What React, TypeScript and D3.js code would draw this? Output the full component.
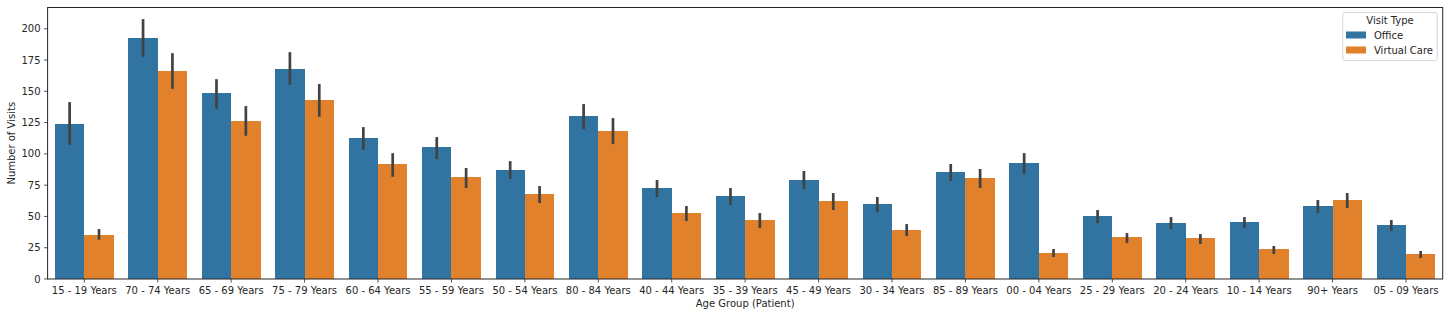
import React from "react";
import * as d3 from "d3";

const categories = [
  "15 - 19 Years", "70 - 74 Years", "65 - 69 Years", "75 - 79 Years", "60 - 64 Years",
  "55 - 59 Years", "50 - 54 Years", "80 - 84 Years", "40 - 44 Years", "35 - 39 Years",
  "45 - 49 Years", "30 - 34 Years", "85 - 89 Years", "00 - 04 Years", "25 - 29 Years",
  "20 - 24 Years", "10 - 14 Years", "90+ Years", "05 - 09 Years",
];
const seriesNames = ["Office", "Virtual Care"];
const officeValues = [123.8, 192.5, 148.6, 167.7, 112.6, 105.4, 87.1, 130.2, 72.7, 66.3, 79.1, 59.9, 85.5, 92.7, 50.3, 44.7, 45.5, 58.3, 43.1];
const officeLow = [107.3, 177.6, 136.0, 155.2, 103.3, 95.8, 79.9, 119.8, 65.5, 59.1, 71.9, 53.5, 78.3, 83.9, 44.7, 39.9, 40.7, 52.7, 38.3];
const officeHigh = [141.4, 207.7, 159.7, 181.3, 121.4, 113.4, 94.2, 139.8, 79.1, 72.7, 86.3, 65.5, 91.9, 100.6, 55.1, 49.5, 49.5, 63.1, 47.1];
const virtualValues = [35.1, 166.1, 126.2, 143.0, 91.9, 81.5, 67.9, 118.2, 52.7, 47.1, 62.3, 39.1, 80.7, 20.8, 33.5, 32.7, 24.0, 63.1, 20.0];
const virtualLow = [31.4, 152.0, 114.5, 129.6, 81.7, 72.7, 60.7, 107.8, 46.3, 40.7, 55.1, 34.3, 72.7, 17.6, 28.8, 28.0, 20.0, 56.7, 16.8];
const virtualHigh = [39.9, 180.5, 138.2, 155.8, 100.6, 88.7, 74.3, 128.6, 58.3, 52.7, 68.7, 43.9, 87.9, 24.0, 36.7, 35.9, 26.4, 68.7, 22.4];
const yTicks = [0, 25, 50, 75, 100, 125, 150, 175, 200];

const colors = ["#3274a1", "#e1812c"];
const W = 1449, H = 317;
const left = 47.6, right = 1442.7, top = 7.5, bottom = 279;
const font = "DejaVu Sans, sans-serif";

export default function App() {
  const x = d3.scaleBand<string>().domain(categories).range([left, right]).paddingInner(0).paddingOuter(0);
  const y = d3.scaleLinear().domain([0, 217]).range([bottom, top]);
  const bw = x.bandwidth();
  const barW = bw * 0.4;
  const series = [
    { v: officeValues, lo: officeLow, hi: officeHigh },
    { v: virtualValues, lo: virtualLow, hi: virtualHigh },
  ];
  return (
    <svg width={W} height={H} style={{ position: "absolute", left: 0, top: 0, background: "#fff" }} fontFamily={font}>
      <rect x={0} y={0} width={W} height={H} fill="#fff" />
      {series.map((s, si) =>
        categories.map((c, i) => {
          const cx = (x(c) as number) + bw / 2;
          const bx = cx - barW + si * barW;
          return (
            <rect key={`b${si}-${i}`} x={bx} y={y(s.v[i])} width={barW} height={y(0) - y(s.v[i])} fill={colors[si]} shapeRendering="crispEdges" />
          );
        })
      )}
      {series.map((s, si) =>
        categories.map((c, i) => {
          const cx = (x(c) as number) + bw / 2;
          const ex = cx - barW / 2 + si * barW;
          return (
            <line key={`e${si}-${i}`} x1={ex} x2={ex} y1={y(s.lo[i])} y2={y(s.hi[i])} stroke="#424242" strokeWidth={2.7} />
          );
        })
      )}
      <rect x={left} y={top} width={right - left} height={bottom - top} fill="none" stroke="#262626" strokeWidth={1} />
      {yTicks.map((t) => (
        <g key={`yt${t}`}>
          <line x1={left - 3.5} x2={left} y1={y(t)} y2={y(t)} stroke="#262626" strokeWidth={0.8} />
          <text x={left - 7} y={y(t)} dy="0.35em" textAnchor="end" fontSize={10} fill="#262626">{t}</text>
        </g>
      ))}
      {categories.map((c) => {
        const cx = (x(c) as number) + bw / 2;
        return (
          <g key={`xt${c}`}>
            <line x1={cx} x2={cx} y1={bottom} y2={bottom + 3.5} stroke="#262626" strokeWidth={0.8} />
            <text x={cx} y={bottom + 14.5} textAnchor="middle" fontSize={10} fill="#262626">{c}</text>
          </g>
        );
      })}
      <text x={(left + right) / 2} y={307} textAnchor="middle" fontSize={10} fill="#262626">Age Group (Patient)</text>
      <text transform={`translate(14.5, ${(top + bottom) / 2}) rotate(-90)`} textAnchor="middle" fontSize={10} fill="#262626">Number of Visits</text>
      <g>
        <rect x={1342.7} y={12.5} width={94.6} height={48} rx={2.5} fill="#fff" fillOpacity={0.8} stroke="#cccccc" strokeWidth={0.8} />
        <text x={1390} y={20} dy="0.35em" textAnchor="middle" fontSize={10} fill="#262626">Visit Type</text>
        {seriesNames.map((n, i) => (
          <g key={n}>
            <rect x={1346} y={35 + i * 15 - 3.5} width={20} height={7} fill={colors[i]} />
            <text x={1374} y={35 + i * 15} dy="0.35em" fontSize={10} fill="#262626">{n}</text>
          </g>
        ))}
      </g>
    </svg>
  );
}
